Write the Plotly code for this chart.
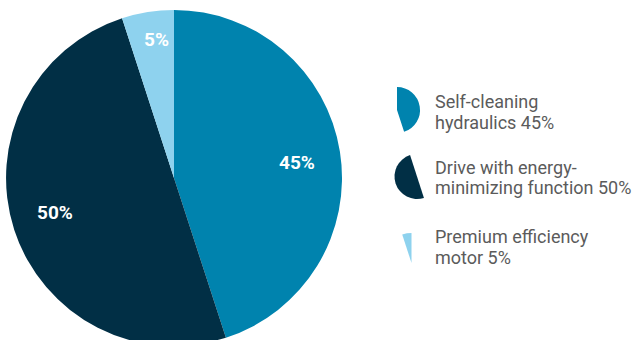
import math
import plotly.graph_objects as go

# Share of energy savings by feature
labels = ["Self-cleaning hydraulics", "Drive with energy-minimizing function", "Premium efficiency motor"]
legend_lines = [
    ["Self-cleaning", "hydraulics"],
    ["Drive with energy-", "minimizing function"],
    ["Premium efficiency", "motor"],
]
values = [45, 50, 5]
colors = ["#0083AE", "#012F45", "#8ED2EE"]

W, H = 633, 346
FONT = "Roboto"
PIE_CX, PIE_CY, PIE_R = 174, 178, 168


def px_domain(cx, cy, r):
    """Square domain (paper coords) centred on pixel (cx, cy) with radius r."""
    return dict(
        x=[(cx - r) / W, (cx + r) / W],
        y=[1 - (cy + r) / H, 1 - (cy - r) / H],
    )


fig = go.Figure()

# Main pie
fig.add_trace(go.Pie(
    labels=labels,
    values=values,
    sort=False,
    direction="clockwise",
    rotation=0,
    marker=dict(colors=colors, line=dict(width=0)),
    textinfo="none",
    hoverinfo="label+percent",
    domain=px_domain(PIE_CX, PIE_CY, PIE_R),
    showlegend=False,
))

# Percentage labels placed along each slice's bisector
label_radius = [0.74, 0.735, 0.83]
label_turn = 0.03  # small clockwise offset of the label angle (radians)
total = sum(values)
start = 0.0
for v, rf in zip(values, label_radius):
    mid = (start + v / 2) / total * 2 * math.pi + label_turn
    start += v
    x = PIE_CX + rf * PIE_R * math.sin(mid)
    y = PIE_CY - rf * PIE_R * math.cos(mid)
    fig.add_annotation(
        x=x / W, y=1 - y / H, xref="paper", yref="paper",
        xanchor="center", yanchor="middle", showarrow=False,
        text=f"{v}%",
        font=dict(family=FONT, size=19, color="white", weight="bold"),
    )

# Legend icons: miniature copies of the pie with only one slice visible
icon_geom = [(397, 110, 23), (417, 176.5, 22.5), (411.5, 263, 30)]
for i, (cx, cy, r) in enumerate(icon_geom):
    icon_colors = [c if j == i else "rgba(0,0,0,0)" for j, c in enumerate(colors)]
    fig.add_trace(go.Pie(
        labels=labels,
        values=values,
        sort=False,
        direction="clockwise",
        rotation=0,
        marker=dict(colors=icon_colors, line=dict(width=0)),
        textinfo="none",
        hoverinfo="skip",
        domain=px_domain(cx, cy, r),
        showlegend=False,
    ))

# Legend text, one annotation per line
legend_top = [101, 167, 236]
line_gap = 21
for lines, v, y0 in zip(legend_lines, values, legend_top):
    rows = lines[:-1] + [f"{lines[-1]} {v}%"]
    for k, row in enumerate(rows):
        y = y0 + k * line_gap
        fig.add_annotation(
            x=433 / W, y=1 - y / H, xref="paper", yref="paper",
            xanchor="left", yanchor="middle", align="left",
            text=row, showarrow=False,
            font=dict(family=FONT, size=18, color="#5B5B5B"),
        )

fig.update_layout(
    width=W, height=H,
    margin=dict(l=0, r=0, t=0, b=0),
    paper_bgcolor="white",
    plot_bgcolor="white",
    showlegend=False,
)

fig.write_html(
    "out.html",
    config={"displayModeBar": False},
    post_script="document.documentElement.style.overflow='hidden';document.body.style.overflow='hidden';document.body.style.margin='0';",
)
